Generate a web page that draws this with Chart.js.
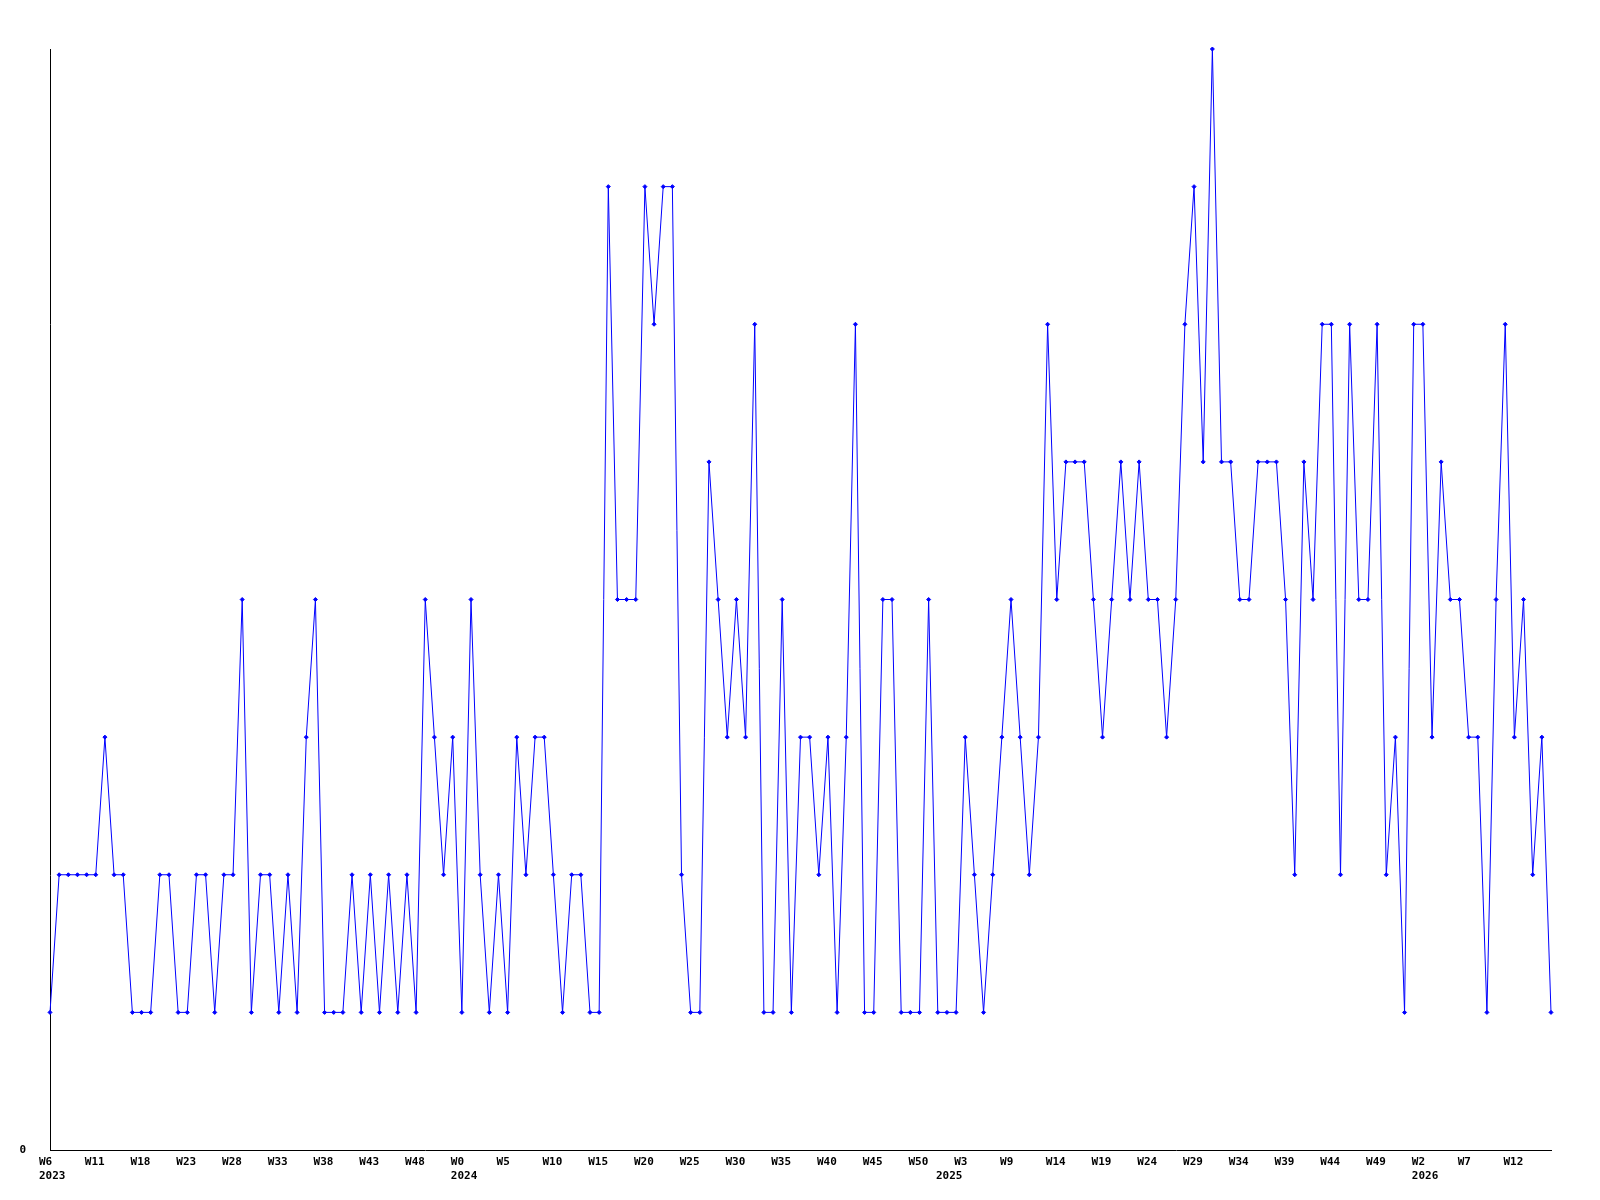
<!DOCTYPE html>
<html>
<head>
<meta charset="utf-8">
<title>Weekly chart</title>
<script src="https://cdn.jsdelivr.net/npm/chart.js@4/dist/chart.umd.min.js"></script>
<style>
    body { margin: 0; background: #ffffff; }
    #weekChart { display: block; }
</style>
</head>
<body>
<canvas id="weekChart" width="1600" height="1200"></canvas>
<script>
// one value per week, left to right
const weekValues = [
    1,2,2,2,2,2,3,2,2,1,1,1,2,2,1,1,2,2,1,2,
    2,4,1,2,2,1,2,1,3,4,1,1,1,2,1,2,1,2,1,2,1,
    4,3,2,3,1,4,2,1,2,1,3,2,3,3,2,1,2,2,1,1,7,
    4,4,4,7,6,7,7,2,1,1,5,4,3,4,3,6,1,1,4,1,3,
    3,2,3,1,3,6,1,1,4,4,1,1,1,4,1,1,1,3,2,1,
    2,3,4,3,2,3,6,4,5,5,5,4,3,4,5,4,5,4,4,3,4,
    6,7,5,8,5,5,4,4,5,5,5,4,2,5,4,6,6,2,6,4,4,
    6,2,3,1,6,6,3,5,4,4,3,3,1,4,6,3,4,2,3,1
];

// a week label is printed under every 5th point
const tickWeeks = [
    "W6","W11","W18","W23","W28","W33","W38","W43","W48",
    "W0","W5","W10","W15","W20","W25","W30","W35","W40","W45","W50",
    "W3","W9","W14","W19","W24","W29","W34","W39","W44","W49",
    "W2","W7","W12"
];
const labelStep = 5;

// year names go on the second line, at the first point of each year
const yearPoints = [0, 45, 98, 150];
const yearNames = ["2023", "2024", "2025", "2026"];

const yTicks = [0];
const yMax = 8;

document.addEventListener("DOMContentLoaded", initializeChart);

function buildCategories(){
    const cats = [];
    for(let i = 0; i < weekValues.length; i++){
        const week = i % labelStep === 0 ? tickWeeks[i / labelStep] : "";
        const y = yearPoints.indexOf(i);
        if(y >= 0){
            cats.push([week, yearNames[y]]);
        } else {
            cats.push(week);
        }
    }
    return cats;
}

function initializeChart(){
    const ctx = document.getElementById("weekChart");
    if(!ctx) return;
    const tickFont = {
        family: "'DejaVu Sans Mono', monospace",
        size: 11,
        weight: "bold",
        lineHeight: 1.3
    };
    new Chart(ctx, {
        type: "line",
        data: {
            labels: buildCategories(),
            datasets: [
                {
                    data: weekValues,
                    borderColor: "#0000ff",
                    backgroundColor: "#0000ff",
                    borderWidth: 1,
                    tension: 0,
                    pointStyle: "rectRot",
                    pointRadius: 2,
                    pointBorderWidth: 1,
                    clip: false
                }
            ]
        },
        options: {
            responsive: false,
            animation: false,
            layout: {
                padding: { top: 49, right: 49, bottom: 0, left: 0 }
            },
            plugins: {
                legend: { display: false },
                tooltip: { enabled: false }
            },
            scales: {
                x: {
                    offset: false,
                    grid: { display: false, drawTicks: false },
                    border: { display: true, color: "#000000", width: 1 },
                    ticks: {
                        autoSkip: false,
                        maxRotation: 0,
                        minRotation: 0,
                        align: "start",
                        labelOffset: -11,
                        padding: 5,
                        color: "#000000",
                        font: tickFont
                    },
                    afterFit: function(scale){ scale.height = 50; }
                },
                y: {
                    min: 0,
                    max: yMax,
                    grid: { display: false, drawTicks: false },
                    border: { display: true, color: "#000000", width: 1 },
                    afterBuildTicks: function(scale){
                        scale.ticks = yTicks.map(v => ({ value: v }));
                    },
                    ticks: {
                        padding: 24,
                        color: "#000000",
                        font: tickFont
                    },
                    afterFit: function(scale){ scale.width = 50; }
                }
            }
        }
    });
}
</script>
</body>
</html>
